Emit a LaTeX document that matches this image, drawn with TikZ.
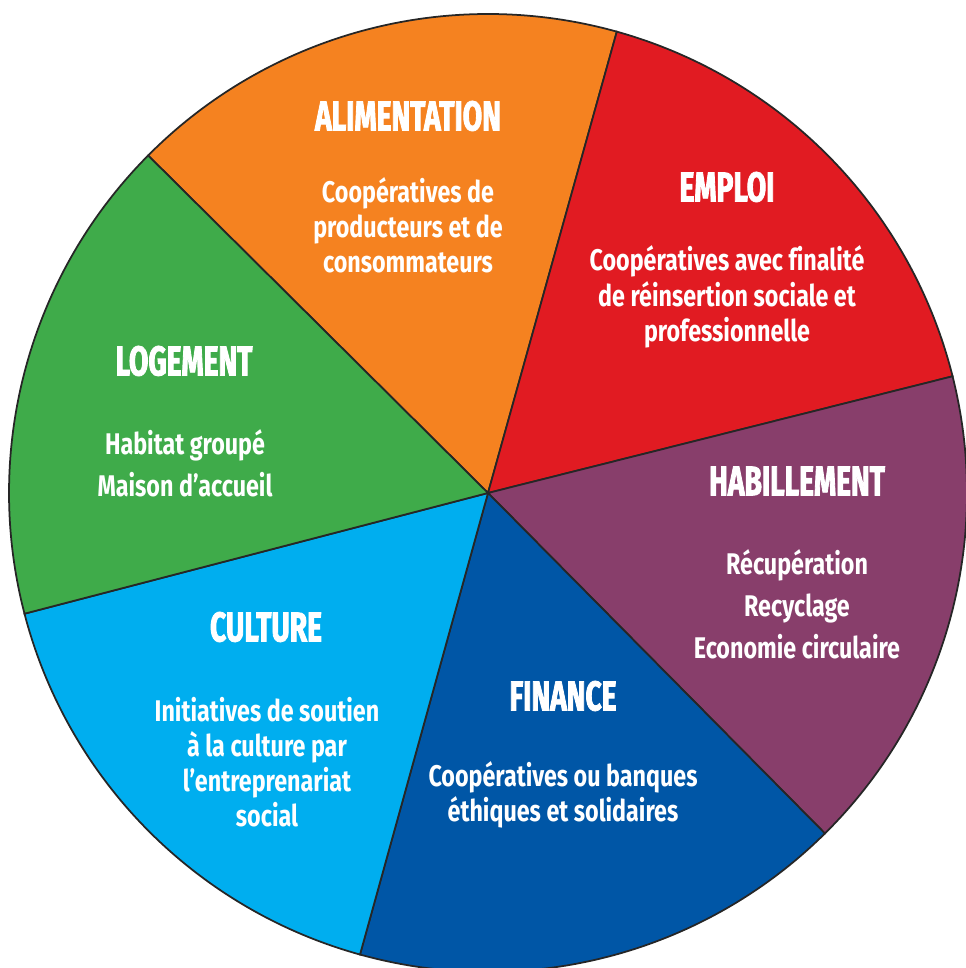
\documentclass[tikz,border=0pt]{standalone}
\usepackage{fontspec}
\setmainfont{Fira Sans}
\newfontfamily\headfont[FakeStretch=0.68,FakeBold=2]{Fira Sans}
\newfontfamily\bodyfont[FakeStretch=0.78,Ligatures=NoCommon]{Fira Sans}

\definecolor{alimOrange}{HTML}{F58220}
\definecolor{emploiRed}{HTML}{E11B22}
\definecolor{habilPurple}{HTML}{883E6B}
\definecolor{financeBlue}{HTML}{0056A6}
\definecolor{cultureBlue}{HTML}{00AEEF}
\definecolor{logementGreen}{HTML}{3FAB4A}

\tikzset{
  slice/.style={draw=black!85, line width=0.5pt},
  head/.style={text=white, font=\headfont\bfseries\fontsize{11.8}{13}\selectfont},
  body/.style={text=white, align=center, font=\bodyfont\bfseries\fontsize{8.5}{10}\selectfont},
  bodywide/.style={body, font=\bodyfont\bfseries\fontsize{8.5}{12}\selectfont}
}

\begin{document}
\begin{tikzpicture}
    \useasboundingbox (0,0) rectangle (9.65,9.68);
    \coordinate (O) at (4.88,4.75);

    % Slices
    \filldraw[slice, fill=alimOrange] (O) -- ++(74.4:4.79) arc[start angle=74.4, end angle=135.2, radius=4.79] -- cycle;
    \filldraw[slice, fill=emploiRed] (O) -- ++(14.1:4.79) arc[start angle=14.1, end angle=74.4, radius=4.79] -- cycle;
    \filldraw[slice, fill=habilPurple] (O) -- ++(-45.3:4.79) arc[start angle=-45.3, end angle=14.1, radius=4.79] -- cycle;
    \filldraw[slice, fill=financeBlue] (O) -- ++(-105.5:4.79) arc[start angle=-105.5, end angle=-45.3, radius=4.79] -- cycle;
    \filldraw[slice, fill=cultureBlue] (O) -- ++(194.6:4.79) arc[start angle=194.6, end angle=254.5, radius=4.79] -- cycle;
    \filldraw[slice, fill=logementGreen] (O) -- ++(135.2:4.79) arc[start angle=135.2, end angle=194.6, radius=4.79] -- cycle;

    % Headings
    \node[head] (alimHead) at (4.08,8.52) {ALIMENTATION};
    \node[head] (emploiHead) at (7.27,7.81) {EMPLOI};
    \node[head] (logHead) at (1.84,6.07) {LOGEMENT};
    \node[head] (habilHead) at (7.97,4.87) {HABILLEMENT};
    \node[head] (cultHead) at (2.66,3.41) {CULTURE};
    \node[head] (finHead) at (5.63,2.72) {FINANCE};

    % Descriptions
    \node[body] (alimText) at (4.08,7.43) {Coopératives de\\producteurs et de\\consommateurs};
    \node[body] (emploiText) at (7.27,6.71) {Coopératives avec finalité\\de réinsertion sociale et\\professionnelle};
    \node[bodywide] (logText) at (1.85,5.05) {Habitat groupé\\Maison d’accueil};
    \node[bodywide] (habilText) at (7.97,3.64) {Récupération\\Recyclage\\Economie circulaire};
    \node[body] (cultText) at (2.67,2.06) {Initiatives de soutien\\à la culture par\\l’entreprenariat\\social};
    \node[body] (finText) at (5.63,1.73) {Coopératives ou banques\\éthiques et solidaires};
\end{tikzpicture}
\end{document}
